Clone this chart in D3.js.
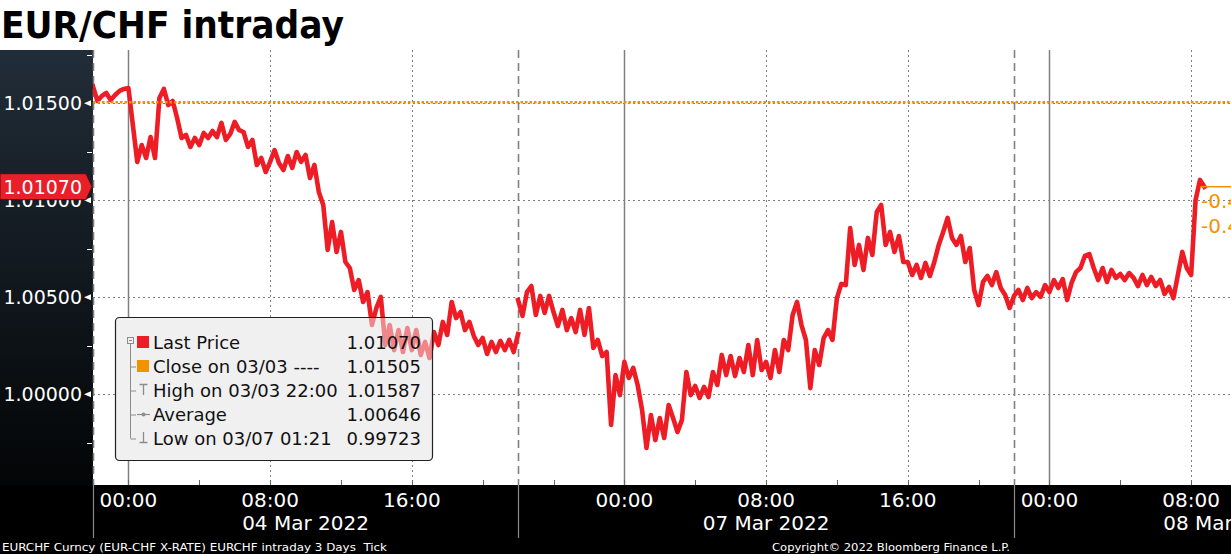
<!DOCTYPE html>
<html><head><meta charset="utf-8">
<script src="https://cdn.jsdelivr.net/npm/d3@7"></script>
<style>html,body{margin:0;padding:0;background:#fff;overflow:hidden}svg{display:block}</style>
</head><body><svg id="c" width="1231" height="554"></svg>
<script>
// ---------------- data ----------------
const titleText = "EUR/CHF intraday";
const yTickValues = [1.000, 1.005, 1.010, 1.015];
const yTickLabels = ["1.00000", "1.00500", "1.01000", "1.01500"];
const yMinorValues = [0.9975, 1.0025, 1.0075, 1.0125, 1.0175];
const sessionStarts = ["2022-03-03T22:00", "2022-03-06T18:00"];
const sessionEnds = ["2022-03-04T22:00", "2022-03-08T22:00"];
const stepMinutes = 15;
// Friday session, 15-minute samples from 03 Mar 22:00
const fridayValues = [1.01587, 1.01512, 1.01538, 1.01553, 1.01517, 1.01543, 1.01564, 1.01574, 1.01579, 1.01388,
  1.01198, 1.01285, 1.01218, 1.01326, 1.01218, 1.01527, 1.01574, 1.01491, 1.01512, 1.01424,
  1.01321, 1.01337, 1.01275, 1.01321, 1.01285, 1.01347, 1.01321, 1.01357, 1.01326, 1.01399,
  1.01311, 1.01342, 1.01404, 1.01362, 1.01352, 1.01275, 1.01311, 1.01182, 1.01218, 1.01146,
  1.01198, 1.01259, 1.01192, 1.01156, 1.01228, 1.01167, 1.01249, 1.01198, 1.01234, 1.01115,
  1.01182, 1.01043, 1.00976, 1.00744, 1.00888, 1.00734, 1.00837, 1.00682, 1.00651, 1.00538,
  1.00589, 1.00476, 1.00527, 1.00357, 1.00445, 1.00502, 1.00254, 1.00357, 1.00228, 1.00331,
  1.00218, 1.00342, 1.00228, 1.00331, 1.00203, 1.00270, 1.00187, 1.00321, 1.00254, 1.00373,
  1.00306, 1.00476, 1.00393, 1.00424, 1.00331, 1.00373, 1.00301, 1.00254, 1.00290, 1.00208,
  1.00270, 1.00218, 1.00275, 1.00228, 1.00280, 1.00218, 1.00311];
// Monday/Tuesday session, 15-minute samples from 06 Mar 18:00
const mondayValues = [1.00486, 1.00404, 1.00527, 1.00558, 1.00409, 1.00507, 1.00419, 1.00507, 1.00424, 1.00352,
  1.00435, 1.00331, 1.00393, 1.00321, 1.00435, 1.00306, 1.00445, 1.00239, 1.00280, 1.00197,
  1.00218, 0.99842, 1.00099, 0.99996, 1.00167, 1.00084, 1.00136, 1.00048, 0.99919, 0.99723,
  0.99893, 0.99764, 0.99878, 0.99775, 0.99945, 0.99878, 0.99806, 0.99868, 1.00115, 0.99996,
  1.00043, 0.99981, 1.00038, 0.99986, 1.00115, 1.00048, 1.00203, 1.00099, 1.00197, 1.00094,
  1.00187, 1.00115, 1.00254, 1.00099, 1.00280, 1.00125, 1.00167, 1.00084, 1.00228, 1.00115,
  1.00280, 1.00228, 1.00409, 1.00476, 1.00357, 1.00280, 1.00032, 1.00228, 1.00151, 1.00290,
  1.00331, 1.00280, 1.00496, 1.00569, 1.00563, 1.00857, 1.00667, 1.00770, 1.00641, 1.00806,
  1.00718, 1.00940, 1.00976, 1.00770, 1.00837, 1.00734, 1.00816, 1.00682, 1.00682, 1.00615,
  1.00667, 1.00600, 1.00677, 1.00610, 1.00682, 1.00770, 1.00837, 1.00909, 1.00806, 1.00770,
  1.00816, 1.00682, 1.00754, 1.00538, 1.00460, 1.00579, 1.00610, 1.00563, 1.00630, 1.00548,
  1.00512, 1.00445, 1.00507, 1.00538, 1.00486, 1.00548, 1.00496, 1.00527, 1.00502, 1.00563,
  1.00527, 1.00589, 1.00548, 1.00594, 1.00486, 1.00574, 1.00630, 1.00651, 1.00713, 1.00723,
  1.00651, 1.00589, 1.00651, 1.00579, 1.00641, 1.00600, 1.00620, 1.00589, 1.00625, 1.00600,
  1.00558, 1.00615, 1.00563, 1.00605, 1.00558, 1.00589, 1.00517, 1.00553, 1.00496, 1.00615,
  1.00734, 1.00651, 1.00615, 1.01002, 1.01105, 1.01070];
const closePrev = 1.01505;
const lastPrice = 1.01070;
const lastPriceLabel = "1.01070";
const rightLabels = ["-0.43%", "-0.45%"];
const legendLabels = ["Last Price", "Close on 03/03 ----", "High on 03/03 22:00", "Average", "Low on 03/07 01:21"];
const legendValues = ["1.01070", "1.01505", "1.01587", "1.00646", "0.99723"];
const timeLabelTimes = ["2022-03-04T00:00", "2022-03-04T08:00", "2022-03-04T16:00", "2022-03-07T00:00",
  "2022-03-07T08:00", "2022-03-07T16:00", "2022-03-08T00:00", "2022-03-08T08:00"];
const dateLabels = ["04 Mar 2022", "07 Mar 2022", "08 Mar 2022"];
const dateLabelTimes = ["2022-03-04T10:00", "2022-03-07T08:00", "2022-03-08T10:00"];
const boundaryTimes = ["2022-03-03T22:00", "2022-03-04T22:00", "2022-03-07T22:00"];
const footerLeft = "EURCHF Curncy (EUR-CHF X-RATE) EURCHF intraday 3 Days  Tick";
const footerRight = "Copyright\u00a9 2022 Bloomberg Finance L.P.";

// ---------------- setup ----------------
const W = 1231, H = 554;
const P = {left: 93, right: 1231, top: 50, bottom: 485};
const svg = d3.select("#c");
const parse = d3.timeParse("%Y-%m-%dT%H:%M");
const sStart = sessionStarts.map(parse), sEnd = sessionEnds.map(parse);
function hoursOf(d) {
  let off = 0;
  for (let k = 0; k < sStart.length; k++) {
    if (d <= sEnd[k] || k === sStart.length - 1) return off + (d - sStart[k]) / 3.6e6;
    off += (sEnd[k] - sStart[k]) / 3.6e6;
  }
}
const x = d3.scaleLinear().domain([0, 64.25]).range([P.left, P.right]);
const y = d3.scaleLinear().domain([0.995325, 1.017747]).range([P.bottom, P.top]);
const xt = t => x(hoursOf(t));

const fri = fridayValues.map((v, i) => ({t: d3.timeMinute.offset(sStart[0], i * stepMinutes), v}));
const mon = mondayValues.map((v, i) => ({t: d3.timeMinute.offset(sStart[1], i * stepMinutes), v}));

const defs = svg.append("defs");
const gr = defs.append("linearGradient").attr("id", "lp").attr("x1", 0).attr("y1", 0).attr("x2", 0).attr("y2", 1);
gr.append("stop").attr("offset", "0%").attr("stop-color", "#212d38");
gr.append("stop").attr("offset", "100%").attr("stop-color", "#030506");
defs.append("clipPath").attr("id", "pc").append("rect")
  .attr("x", P.left).attr("y", P.top).attr("width", P.right - P.left).attr("height", P.bottom - P.top);

svg.append("rect").attr("width", W).attr("height", H).attr("fill", "#fff");
svg.append("rect").attr("x", 0).attr("y", P.top).attr("width", P.left).attr("height", P.bottom - P.top).attr("fill", "url(#lp)");

// ---------------- grid ----------------
const grid = svg.append("g");
grid.selectAll("line.h").data(yTickValues).join("line")
  .attr("x1", P.left).attr("x2", P.right).attr("y1", d => Math.round(y(d)) + 0.5).attr("y2", d => Math.round(y(d)) + 0.5)
  .attr("stroke", "#7f7f7f").attr("stroke-width", 1).attr("stroke-dasharray", "2,3");

const allHours = d3.timeHour.every(4).range(sStart[0], sEnd[1])
  .filter(t => (t >= sStart[0] && t <= sEnd[0]) || (t >= sStart[1] && xt(t) <= P.right));
const midnights = allHours.filter(t => t.getHours() === 0);
const dotted = allHours.filter(t => t.getHours() === 8 || t.getHours() === 16);
grid.selectAll("line.m").data(midnights).join("line")
  .attr("x1", d => Math.round(xt(d)) + 0.5).attr("x2", d => Math.round(xt(d)) + 0.5)
  .attr("y1", P.top).attr("y2", P.bottom).attr("stroke", "#808080").attr("stroke-width", 1.5);
grid.selectAll("line.d").data(dotted).join("line")
  .attr("x1", d => Math.round(xt(d)) + 0.5).attr("x2", d => Math.round(xt(d)) + 0.5)
  .attr("y1", P.top).attr("y2", P.bottom).attr("stroke", "#7f7f7f").attr("stroke-width", 1).attr("stroke-dasharray", "2,3");
grid.selectAll("line.b").data(boundaryTimes.map(parse)).join("line")
  .attr("x1", d => Math.round(xt(d)) + 0.5).attr("x2", d => Math.round(xt(d)) + 0.5)
  .attr("y1", P.top).attr("y2", P.bottom).attr("stroke", "#808080").attr("stroke-width", 1.6).attr("stroke-dasharray", "8,5");

// legend box (under the line)
const LG = {x: 115.5, y: 317.5, w: 317, h: 143};
svg.append("rect").attr("x", LG.x).attr("y", LG.y).attr("width", LG.w).attr("height", LG.h).attr("rx", 4)
  .attr("fill", "#f0f0f0");

// ---------------- price line ----------------
const line = d3.line().x(d => xt(d.t)).y(d => y(d.v)).curve(d3.curveLinear);
const lg = svg.append("g").attr("clip-path", "url(#pc)");
[fri, mon].forEach(s => lg.append("path").datum(s).attr("d", line).attr("fill", "none")
  .attr("stroke", "#ee1c25").attr("stroke-width", 4.6).attr("stroke-linejoin", "round").attr("stroke-linecap", "square"));

// close line
svg.append("line").attr("x1", P.left).attr("x2", P.right).attr("y1", y(closePrev)).attr("y2", y(closePrev))
  .attr("stroke", "#f39200").attr("stroke-width", 2.5).attr("stroke-dasharray", "2.5,2");

// legend overlay + content
svg.append("rect").attr("x", LG.x).attr("y", LG.y).attr("width", LG.w).attr("height", LG.h).attr("rx", 4)
  .attr("fill", "rgba(240,240,240,0.5)").attr("stroke", "#222").attr("stroke-width", 1.2);
const leg = svg.append("g").attr("font-family", "DejaVu Sans, sans-serif").attr("font-size", 18).attr("fill", "#111");
const rowY = i => 348.5 + i * 24;
legendLabels.forEach((t, i) => {
  leg.append("text").attr("x", 153).attr("y", rowY(i)).text(t);
  leg.append("text").attr("x", 421).attr("y", rowY(i)).attr("text-anchor", "end").text(legendValues[i]);
});
const gc = "#8c8c8c";
leg.append("line").attr("x1", 130.5).attr("x2", 130.5).attr("y1", 344).attr("y2", rowY(4) - 6).attr("stroke", gc);
[1, 2, 3, 4].forEach(i => leg.append("line").attr("x1", 130.5).attr("x2", 136).attr("y1", rowY(i) - 6 + 0.5).attr("y2", rowY(i) - 6 + 0.5).attr("stroke", gc));
leg.append("rect").attr("x", 127.5).attr("y", 337.5).attr("width", 6).attr("height", 6).attr("fill", "#f0f0f0").attr("stroke", gc);
leg.append("line").attr("x1", 129).attr("x2", 132).attr("y1", 340.5).attr("y2", 340.5).attr("stroke", gc);
leg.append("rect").attr("x", 137).attr("y", 336).attr("width", 12).attr("height", 12).attr("fill", "#ee1c25");
leg.append("rect").attr("x", 137).attr("y", 360).attr("width", 12).attr("height", 12).attr("fill", "#f39200");
leg.append("path").attr("d", "M139.5,384.5H147.5M143.5,384.5V395").attr("stroke", gc).attr("stroke-width", 1.3).attr("fill", "none");
leg.append("path").attr("d", "M137,414.5H150").attr("stroke", gc).attr("stroke-width", 1.2);
leg.append("circle").attr("cx", 143.5).attr("cy", 414.5).attr("r", 2).attr("fill", gc);
leg.append("path").attr("d", "M143.5,432V442.5M139.5,442.5H147.5").attr("stroke", gc).attr("stroke-width", 1.3).attr("fill", "none");

// ---------------- bottom band ----------------
svg.append("rect").attr("x", 0).attr("y", P.bottom).attr("width", W).attr("height", H - P.bottom).attr("fill", "#000");
svg.append("g").selectAll("line").data(allHours).join("line")
  .attr("x1", d => Math.round(xt(d)) + 0.5).attr("x2", d => Math.round(xt(d)) + 0.5)
  .attr("y1", P.bottom - 5).attr("y2", P.bottom).attr("stroke", "#666").attr("stroke-width", 1);
svg.append("g").selectAll("line").data(boundaryTimes.map(parse)).join("line")
  .attr("x1", d => Math.round(xt(d)) + 0.5).attr("x2", d => Math.round(xt(d)) + 0.5)
  .attr("y1", P.bottom).attr("y2", 538).attr("stroke", "#8a8a8a").attr("stroke-width", 1.2);
const fmt = d3.timeFormat("%H:%M");
svg.append("g").attr("font-family", "DejaVu Sans, sans-serif").attr("font-size", 20).attr("fill", "#fff")
  .selectAll("text").data(timeLabelTimes.map(parse)).join("text")
  .attr("x", d => xt(d)).attr("y", 507).attr("text-anchor", "middle").text(d => fmt(d));
svg.append("g").attr("font-family", "DejaVu Sans, sans-serif").attr("font-size", 20).attr("fill", "#fff")
  .selectAll("text").data(dateLabels).join("text")
  .attr("x", (d, i) => xt(parse(dateLabelTimes[i]))).attr("y", 530).attr("text-anchor", "middle").text(d => d);
svg.append("text").attr("x", 2).attr("y", 551).attr("font-family", "DejaVu Sans Condensed, DejaVu Sans, sans-serif")
  .attr("font-size", 11).attr("fill", "#fff").attr("textLength", 385).attr("lengthAdjust", "spacingAndGlyphs")
  .style("white-space", "pre").text(footerLeft);
svg.append("text").attr("x", 772).attr("y", 551).attr("font-family", "DejaVu Sans Condensed, DejaVu Sans, sans-serif")
  .attr("font-size", 11).attr("fill", "#fff").attr("textLength", 238).attr("lengthAdjust", "spacingAndGlyphs")
  .text(footerRight);

// ---------------- y axis ----------------
const ya = svg.append("g").attr("font-family", "DejaVu Sans, sans-serif").attr("font-size", 19).attr("fill", "#fff");
ya.selectAll("text").data(yTickValues).join("text")
  .attr("x", 82).attr("y", d => y(d)).attr("dy", "0.36em").attr("text-anchor", "end").text((d, i) => yTickLabels[i]);
ya.selectAll("path").data(yTickValues).join("path")
  .attr("d", d => `M84,${y(d)}L91,${y(d) - 3}L91,${y(d) + 3}Z`).attr("fill", "#fff");
ya.selectAll("line").data(yMinorValues).join("line")
  .attr("x1", 87).attr("x2", 92).attr("y1", d => Math.round(y(d)) + 0.5).attr("y2", d => Math.round(y(d)) + 0.5)
  .attr("stroke", "#fff").attr("stroke-width", 1);
const ly = y(lastPrice);
svg.append("path").attr("d", `M0,${ly - 13}H86L92,${ly}L86,${ly + 13}H0Z`).attr("fill", "#e8202a").attr("stroke", "#5a0a0c").attr("stroke-width", 1);
svg.append("text").attr("x", 82).attr("y", ly).attr("dy", "0.36em").attr("text-anchor", "end")
  .attr("font-family", "DejaVu Sans, sans-serif").attr("font-size", 19).attr("fill", "#fff").text(lastPriceLabel);

// ---------------- right-side markers ----------------
const lastT = mon[mon.length - 1].t;
svg.append("line").attr("x1", xt(lastT) - 4).attr("x2", P.right).attr("y1", ly).attr("y2", ly).attr("stroke", "#f39200").attr("stroke-width", 1.5);
svg.append("g").attr("font-family", "DejaVu Sans, sans-serif").attr("font-size", 20).attr("fill", "#f39200")
  .selectAll("text").data(rightLabels).join("text")
  .attr("x", 1201).attr("y", (d, i) => ly + 14 + i * 25).attr("dy", "0.36em").text(d => d);

// ---------------- title ----------------
svg.append("text").attr("x", 1).attr("y", 38).attr("font-family", "DejaVu Sans, sans-serif").attr("font-weight", "bold")
  .attr("font-size", 37).attr("fill", "#000").attr("textLength", 343).attr("lengthAdjust", "spacingAndGlyphs").text(titleText);
</script></body></html>
